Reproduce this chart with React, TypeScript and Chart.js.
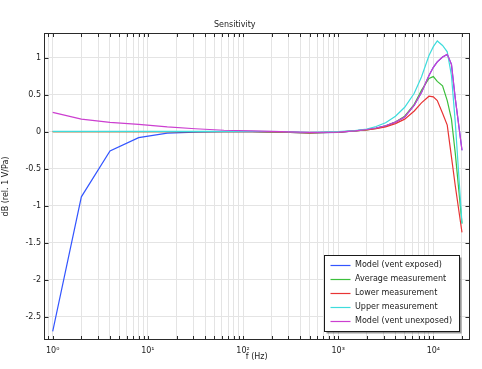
import React, { useEffect, useRef } from 'react';
import { Chart, registerables } from 'chart.js';

Chart.register(...registerables);

const FONT = 'DejaVu Sans';

// Frequencies (Hz)
const freqs = [1, 2, 4, 8, 16, 31.5, 63, 125, 250, 500, 1000, 1500, 2000, 2500, 3150, 4000, 5000, 6300, 7500, 9000, 10000, 11000, 12500, 14000, 15500, 17000, 20000];

// Series values (dB rel. 1 V/Pa)
const modelExposed = [-2.70, -0.88, -0.26, -0.08, -0.02, -0.005, 0, 0, -0.005, -0.015, -0.01, 0.01, 0.03, 0.05, 0.08, 0.13, 0.2, 0.36, 0.53, 0.76, 0.87, 0.945, 1.01, 1.045, 0.91, 0.45, -0.25];
const avgMeas = [0, 0, 0, 0, 0, 0, 0, 0, -0.005, -0.015, -0.005, 0.01, 0.025, 0.045, 0.075, 0.13, 0.21, 0.37, 0.56, 0.72, 0.745, 0.68, 0.62, 0.42, 0.17, -0.29, -1.24];
const lowerMeas = [0, 0, 0, 0, 0, 0, 0, 0, -0.005, -0.015, -0.005, 0.01, 0.025, 0.04, 0.065, 0.11, 0.17, 0.28, 0.39, 0.48, 0.47, 0.42, 0.25, 0.09, -0.34, -0.73, -1.36];
const upperMeas = [0.005, 0.005, 0.005, 0.005, 0.005, 0.005, 0.005, 0.005, 0, -0.01, 0, 0.015, 0.036, 0.07, 0.12, 0.21, 0.33, 0.52, 0.74, 1.03, 1.15, 1.226, 1.166, 1.08, 0.76, 0.13, -1.24];
const modelUnexposed = [0.262, 0.17, 0.127, 0.10, 0.065, 0.04, 0.02, 0.01, 0.0, -0.01, -0.005, 0.01, 0.03, 0.05, 0.08, 0.13, 0.2, 0.36, 0.53, 0.76, 0.87, 0.945, 1.01, 1.045, 0.91, 0.45, -0.25];

const seriesLabels = ['Model (vent exposed)', 'Average measurement', 'Lower measurement', 'Upper measurement', 'Model (vent unexposed)'];
const seriesColors = ['#3355ff', '#3cbf3c', '#e83434', '#3edcdc', '#cc3fd0'];

// Axis ticks
const xTicks = [0.9, 1, 2, 3, 4, 5, 6, 7, 8, 9, 10, 20, 30, 40, 50, 60, 70, 80, 90, 100, 200, 300, 400, 500, 600, 700, 800, 900, 1000, 2000, 3000, 4000, 5000, 6000, 7000, 8000, 9000, 10000, 20000];
const xTickLabels: Record<number, string> = { 1: '10⁰', 10: '10¹', 100: '10²', 1000: '10³', 10000: '10⁴' };
const yTicks = [-2.5, -2, -1.5, -1, -0.5, 0, 0.5, 1];

const framePlugin = {
  id: 'frameAndLegend',
  afterDraw(chart: any) {
    const { ctx, chartArea: a, scales } = chart;
    const xs = scales.x;
    const ys = scales.y;
    ctx.save();
    // grid frame and inward ticks
    const L = Math.round(a.left) + 0.5;
    const R = Math.round(a.right) - 0.5;
    const T = Math.round(a.top) + 0.5;
    const B = Math.round(a.bottom) - 0.5;
    ctx.strokeStyle = '#2a2a2a';
    ctx.lineWidth = 1;
    ctx.beginPath();
    xs.ticks.forEach((t: any) => {
      const px = Math.round(xs.getPixelForValue(t.value)) + 0.5;
      ctx.moveTo(px, T); ctx.lineTo(px, T + 3.5);
      ctx.moveTo(px, B); ctx.lineTo(px, B - 3.5);
    });
    ys.ticks.forEach((t: any) => {
      const py = Math.round(ys.getPixelForValue(t.value)) + 0.5;
      ctx.moveTo(L, py); ctx.lineTo(L + 4, py);
      ctx.moveTo(R, py); ctx.lineTo(R - 4, py);
    });
    ctx.stroke();
    ctx.strokeRect(L, T, R - L, B - T);

    // legend
    ctx.font = `8px "${FONT}"`;
    const ds = chart.data.datasets;
    let maxW = 0;
    ds.forEach((d: any) => { maxW = Math.max(maxW, ctx.measureText(d.label).width); });
    const rowH = 14.1;
    const boxW = Math.round(30.5 + maxW + 7);
    const boxH = Math.round(ds.length * rowH + 5);
    const bx = Math.round(a.right - 10.5 - boxW) + 0.5;
    const by = Math.round(a.bottom - 9 - boxH) + 0.5;
    ctx.fillStyle = 'rgba(0,0,0,0.4)';
    ctx.fillRect(bx + 2, by + 2, boxW, boxH);
    ctx.fillStyle = '#ffffff';
    ctx.fillRect(bx, by, boxW, boxH);
    ctx.strokeStyle = '#1a1a1a';
    ctx.strokeRect(bx, by, boxW, boxH);
    ctx.textBaseline = 'middle';
    ctx.textAlign = 'left';
    ds.forEach((d: any, i: number) => {
      const cy = by + 9 + i * rowH;
      ctx.strokeStyle = d.borderColor;
      ctx.lineWidth = 1.2;
      ctx.beginPath();
      ctx.moveTo(bx + 6, Math.round(cy) + 0.5);
      ctx.lineTo(bx + 26, Math.round(cy) + 0.5);
      ctx.stroke();
      ctx.fillStyle = '#1a1a1a';
      ctx.fillText(d.label, bx + 30.5, cy);
    });
    ctx.restore();
  },
};

export default function App() {
  const ref = useRef<HTMLCanvasElement>(null);
  useEffect(() => {
    const canvas = ref.current!;
    const allSeries = [modelExposed, avgMeas, lowerMeas, upperMeas, modelUnexposed];
    const drawOrder = [4, 3, 2, 1, 0];
    const chart = new Chart(canvas, {
      type: 'line',
      data: {
        datasets: allSeries.map((vals, i) => ({
          label: seriesLabels[i],
          data: freqs.map((f, j) => ({ x: f, y: vals[j] })),
          borderColor: seriesColors[i],
          backgroundColor: seriesColors[i],
          borderWidth: 1.2,
          pointRadius: 0,
          tension: 0,
          fill: false,
          order: drawOrder[i],
        })),
      },
      options: {
        responsive: false,
        devicePixelRatio: 1,
        animation: false,
        layout: { padding: { left: 0, right: 12.5, top: 0, bottom: 0 } },
        plugins: {
          legend: { display: false },
          tooltip: { enabled: false },
          title: {
            display: true,
            text: 'Sensitivity',
            color: '#222',
            font: { family: FONT, size: 8, weight: 'normal' },
            padding: { top: 20.2, bottom: 3.2 },
          },
        },
        scales: {
          x: {
            type: 'logarithmic',
            min: 0.81,
            max: 23990,
            afterBuildTicks: (scale: any) => { scale.ticks = xTicks.map((v) => ({ value: v })); },
            afterFit: (scale: any) => { scale.height = 29; },
            grid: { color: '#e4e4e4', lineWidth: 1, drawTicks: false },
            border: { display: false },
            ticks: {
              autoSkip: false,
              maxRotation: 0,
              minRotation: 0,
              padding: 6,
              color: '#222',
              font: { family: FONT, size: 8 },
              callback: (v: any) => xTickLabels[Number(v)] ?? '',
            },
            title: {
              display: true,
              text: 'f (Hz)',
              color: '#222',
              font: { family: FONT, size: 8 },
              padding: { top: 0, bottom: 7.2 },
            },
          },
          y: {
            type: 'linear',
            min: -2.815,
            max: 1.334,
            afterBuildTicks: (scale: any) => { scale.ticks = yTicks.map((v) => ({ value: v })); },
            afterFit: (scale: any) => { scale.width = 44; },
            grid: { color: '#e4e4e4', lineWidth: 1, drawTicks: false },
            border: { display: false },
            ticks: {
              padding: 3,
              color: '#222',
              font: { family: FONT, size: 8 },
              callback: (v: any) => String(v),
            },
            title: {
              display: true,
              text: 'dB (rel. 1 V/Pa)',
              color: '#222',
              font: { family: FONT, size: 8 },
              padding: { top: 1, bottom: 0 },
            },
          },
        },
      },
      plugins: [framePlugin],
    } as any);
    return () => chart.destroy();
  }, []);
  return (
    <div style={{ position: 'fixed', left: 0, top: 0, width: 482, height: 369, background: '#fff' }}>
      <canvas ref={ref} width={482} height={369} style={{ display: 'block', width: 482, height: 369 }} />
    </div>
  );
}
